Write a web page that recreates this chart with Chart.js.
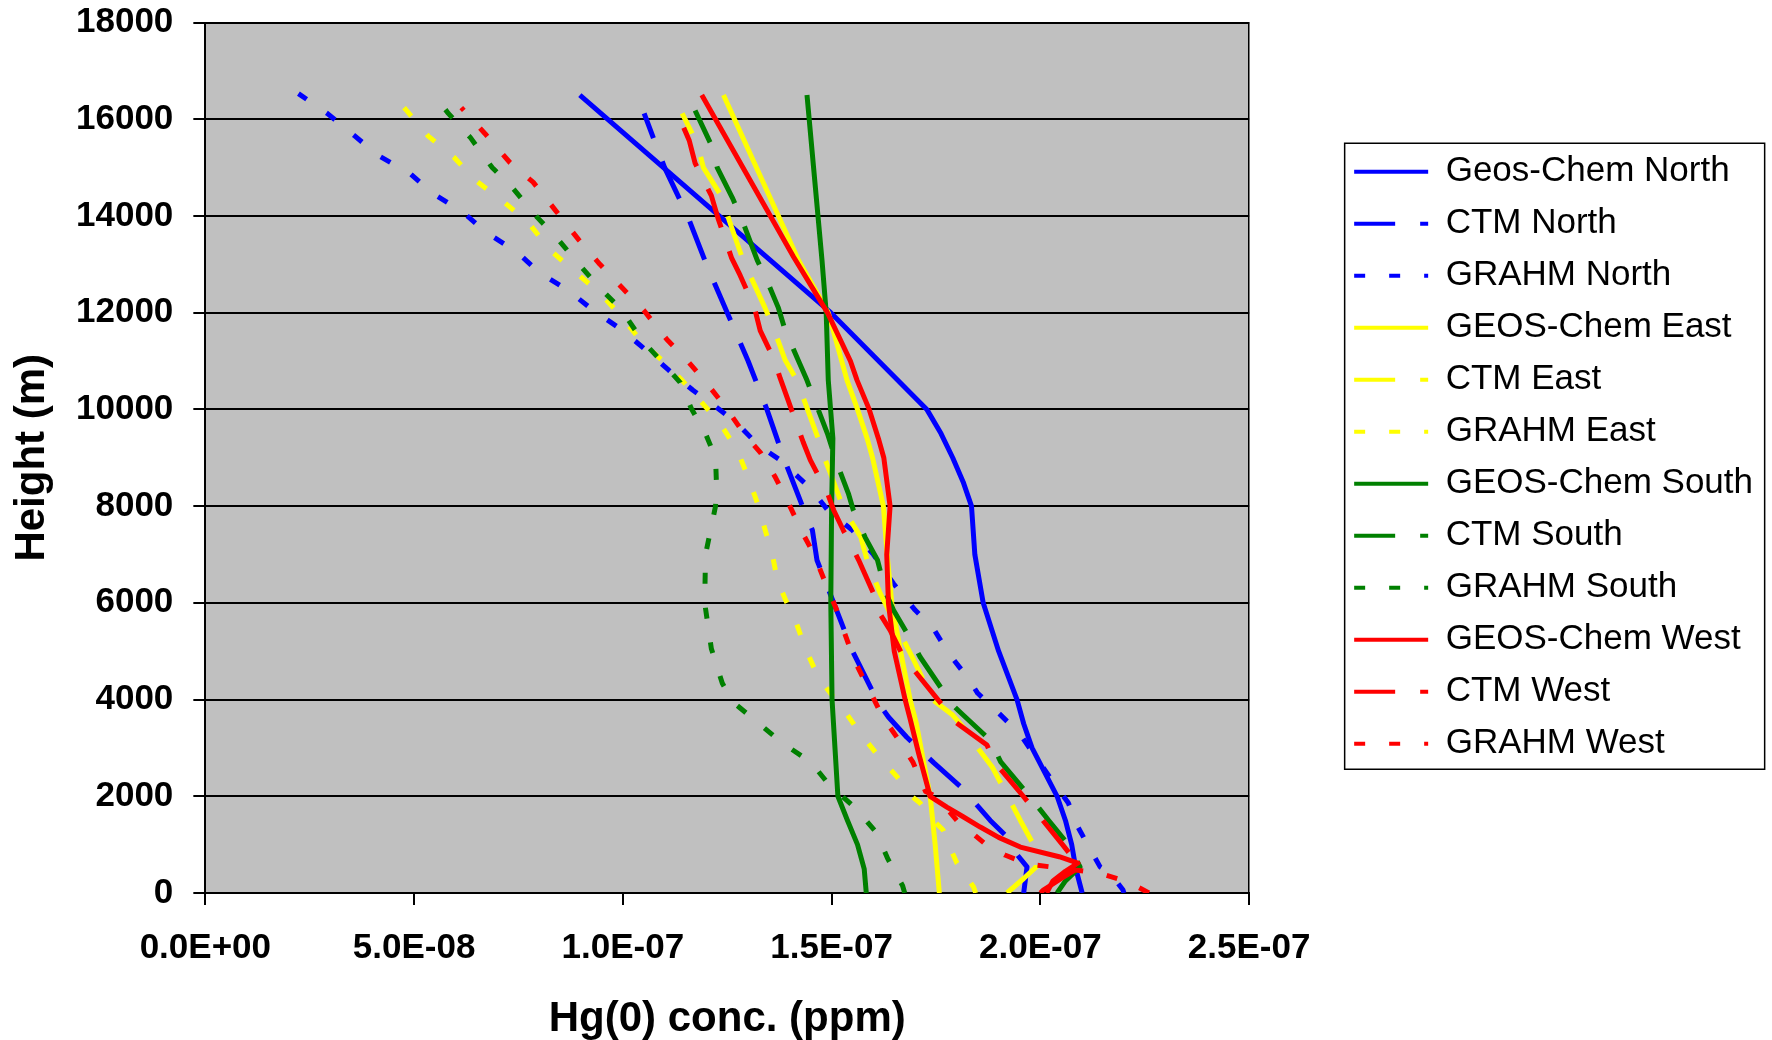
<!DOCTYPE html>
<html>
<head>
<meta charset="utf-8">
<title>Hg(0) vertical profiles</title>
<script src="https://cdn.jsdelivr.net/npm/chart.js@4.4.1/dist/chart.umd.min.js"></script>
<style>
    html, body { margin: 0; padding: 0; background: #fff; }
    #wrap { width: 1772px; height: 1040px; }
</style>
</head>
<body>
<div id="wrap"><canvas id="profileChart"></canvas></div>
<script>
const xTickValues = [0, 5e-8, 1e-7, 1.5e-7, 2e-7, 2.5e-7];
const xTickLabels = ['0.0E+00', '5.0E-08', '1.0E-07', '1.5E-07', '2.0E-07', '2.5E-07'];
const yTickValues = [0, 2000, 4000, 6000, 8000, 10000, 12000, 14000, 16000, 18000];

const seriesLabels = ['Geos-Chem North', 'CTM North', 'GRAHM North',
    'GEOS-Chem East', 'CTM East', 'GRAHM East',
    'GEOS-Chem South', 'CTM South', 'GRAHM South',
    'GEOS-Chem West', 'CTM West', 'GRAHM West'];

// heights (m) and Hg(0) concentrations (ppm), one pair per series
const geosNorthH = [0, 500, 1000, 1500, 2000, 2500, 3000, 3500, 4000, 5000, 6000, 7000, 8000, 8500, 9000, 9500, 10000, 12000, 16500];
const geosNorthC = [2.10e-7, 2.085e-7, 2.075e-7, 2.06e-7, 2.04e-7, 2.01e-7, 1.98e-7, 1.96e-7, 1.944e-7, 1.90e-7, 1.863e-7, 1.843e-7, 1.835e-7, 1.815e-7, 1.79e-7, 1.762e-7, 1.728e-7, 1.498e-7, 0.897e-7];

const ctmNorthH = [0, 540, 890, 1160, 1500, 2190, 2690, 3220, 3640, 3930, 5020, 5910, 6880, 7500, 8000, 9000, 10000, 11000, 12000, 13000, 14000, 15000, 16119];
const ctmNorthC = [1.96e-7, 1.968e-7, 1.935e-7, 1.92e-7, 1.88e-7, 1.81e-7, 1.745e-7, 1.68e-7, 1.636e-7, 1.612e-7, 1.549e-7, 1.509e-7, 1.465e-7, 1.454e-7, 1.43e-7, 1.385e-7, 1.345e-7, 1.30e-7, 1.25e-7, 1.20e-7, 1.155e-7, 1.10e-7, 1.051e-7];

const grahmNorthH = [0, 60, 413, 540, 890, 1364, 1860, 2300, 2800, 3300, 3720, 4130, 4460, 4960, 5480, 5850, 6400, 7000, 7500, 7870, 8370, 8950, 9260, 9710, 10020, 10395, 10810, 11220, 11635, 12050, 12460, 12830, 13250, 13660, 14070, 14470, 14880, 15250, 15660, 16120, 16530];
const grahmNorthC = [2.20e-7, 2.198e-7, 2.167e-7, 2.143e-7, 2.12e-7, 2.09e-7, 2.067e-7, 2.03e-7, 1.99e-7, 1.95e-7, 1.90e-7, 1.85e-7, 1.825e-7, 1.78e-7, 1.743e-7, 1.70e-7, 1.648e-7, 1.60e-7, 1.55e-7, 1.495e-7, 1.449e-7, 1.377e-7, 1.324e-7, 1.274e-7, 1.228e-7, 1.168e-7, 1.11e-7, 1.056e-7, 0.999e-7, 0.929e-7, 0.869e-7, 0.80e-7, 0.747e-7, 0.673e-7, 0.618e-7, 0.544e-7, 0.49e-7, 0.414e-7, 0.357e-7, 0.292e-7, 0.223e-7];

const geosEastH = [0, 1000, 2000, 3000, 3500, 4000, 5000, 6000, 7000, 8000, 9000, 9400, 10000, 10600, 12000, 13078, 16500];
const geosEastC = [1.758e-7, 1.748e-7, 1.736e-7, 1.714e-7, 1.703e-7, 1.688e-7, 1.665e-7, 1.644e-7, 1.633e-7, 1.624e-7, 1.598e-7, 1.585e-7, 1.562e-7, 1.537e-7, 1.492e-7, 1.421e-7, 1.241e-7];

const ctmEastH = [0, 300, 540, 900, 1500, 2000, 2600, 3000, 3430, 3680, 3990, 4880, 6200, 6880, 7360, 7915, 8680, 8950, 9300, 10600, 11015, 11630, 12110, 12730, 13080, 13900, 14380, 15000, 15500, 16119];
const ctmEastC = [1.92e-7, 1.96e-7, 1.99e-7, 1.99e-7, 1.952e-7, 1.922e-7, 1.885e-7, 1.85e-7, 1.815e-7, 1.79e-7, 1.743e-7, 1.693e-7, 1.616e-7, 1.585e-7, 1.57e-7, 1.53e-7, 1.497e-7, 1.485e-7, 1.472e-7, 1.417e-7, 1.389e-7, 1.363e-7, 1.34e-7, 1.307e-7, 1.288e-7, 1.255e-7, 1.238e-7, 1.193e-7, 1.178e-7, 1.142e-7];

const grahmEastH = [0, 124, 620, 930, 1302, 1509, 1860, 2025, 2400, 2790, 3306, 3740, 4000, 4460, 5060, 5640, 6055, 6470, 7000, 7500, 8020, 8600, 9155, 9710, 10085, 10600, 11015, 11390, 11945, 12400, 12875, 13290, 13870, 14280, 14735, 15210, 15650, 16170, 16590];
const grahmEastC = [1.845e-7, 1.84e-7, 1.80e-7, 1.784e-7, 1.767e-7, 1.743e-7, 1.712e-7, 1.688e-7, 1.657e-7, 1.616e-7, 1.568e-7, 1.533e-7, 1.509e-7, 1.468e-7, 1.437e-7, 1.413e-7, 1.39e-7, 1.37e-7, 1.358e-7, 1.341e-7, 1.324e-7, 1.30e-7, 1.274e-7, 1.233e-7, 1.195e-7, 1.142e-7, 1.094e-7, 1.046e-7, 0.994e-7, 0.946e-7, 0.881e-7, 0.826e-7, 0.773e-7, 0.716e-7, 0.647e-7, 0.596e-7, 0.534e-7, 0.483e-7, 0.44e-7];

const geosSouthH = [0, 500, 1000, 1500, 2000, 3000, 4000, 6000, 8000, 9400, 10600, 12000, 13078, 16500];
const geosSouthC = [1.583e-7, 1.578e-7, 1.562e-7, 1.538e-7, 1.515e-7, 1.508e-7, 1.501e-7, 1.498e-7, 1.50e-7, 1.503e-7, 1.492e-7, 1.487e-7, 1.477e-7, 1.441e-7];

const ctmSouthH = [0, 250, 540, 1000, 1500, 2000, 2710, 3160, 3680, 3885, 4880, 5190, 5850, 6200, 6880, 7360, 7915, 8265, 8880, 9500, 10600, 11015, 11630, 12110, 12770, 13081, 13908, 14380, 15000, 15500, 16180];
const ctmSouthC = [2.04e-7, 2.06e-7, 2.095e-7, 2.067e-7, 2.02e-7, 1.974e-7, 1.905e-7, 1.88e-7, 1.815e-7, 1.79e-7, 1.712e-7, 1.693e-7, 1.648e-7, 1.63e-7, 1.61e-7, 1.58e-7, 1.552e-7, 1.54e-7, 1.513e-7, 1.49e-7, 1.441e-7, 1.42e-7, 1.389e-7, 1.372e-7, 1.34e-7, 1.322e-7, 1.286e-7, 1.262e-7, 1.226e-7, 1.21e-7, 1.173e-7];

const grahmSouthH = [0, 150, 700, 1250, 1730, 2280, 2700, 3100, 3520, 3930, 4340, 5050, 6000, 7000, 7500, 8000, 8500, 9000, 9500, 10020, 10560, 11015, 11430, 12090, 12500, 13040, 13535, 13970, 14590, 15000, 15620, 16120, 16590];
const grahmSouthC = [1.675e-7, 1.67e-7, 1.635e-7, 1.607e-7, 1.56e-7, 1.49e-7, 1.451e-7, 1.382e-7, 1.324e-7, 1.266e-7, 1.238e-7, 1.212e-7, 1.196e-7, 1.198e-7, 1.21e-7, 1.222e-7, 1.224e-7, 1.222e-7, 1.198e-7, 1.164e-7, 1.137e-7, 1.09e-7, 1.046e-7, 0.994e-7, 0.946e-7, 0.891e-7, 0.843e-7, 0.795e-7, 0.735e-7, 0.687e-7, 0.635e-7, 0.582e-7, 0.54e-7];

const geosWestH = [0, 250, 450, 620, 750, 950, 1150, 1364, 1577, 1777, 2000, 2900, 3600, 4000, 5000, 6000, 7000, 8000, 9000, 9400, 10000, 10600, 11000, 12000, 13150, 16500];
const geosWestC = [2.015e-7, 2.03e-7, 2.06e-7, 2.09e-7, 2.045e-7, 1.952e-7, 1.90e-7, 1.856e-7, 1.815e-7, 1.776e-7, 1.736e-7, 1.708e-7, 1.688e-7, 1.676e-7, 1.65e-7, 1.636e-7, 1.632e-7, 1.64e-7, 1.625e-7, 1.612e-7, 1.59e-7, 1.561e-7, 1.545e-7, 1.49e-7, 1.409e-7, 1.189e-7];

const ctmWestH = [0, 60, 300, 540, 1000, 1500, 2000, 2710, 3060, 3575, 3885, 4880, 5435, 5850, 6200, 6880, 7500, 7915, 8270, 8950, 9320, 10640, 11015, 11630, 12110, 12770, 13140, 13950, 14420, 15090, 15560, 16220];
const ctmWestC = [2.00e-7, 2.007e-7, 2.05e-7, 2.095e-7, 2.053e-7, 2.006e-7, 1.959e-7, 1.89e-7, 1.872e-7, 1.79e-7, 1.765e-7, 1.672e-7, 1.64e-7, 1.61e-7, 1.60e-7, 1.565e-7, 1.528e-7, 1.505e-7, 1.49e-7, 1.449e-7, 1.432e-7, 1.377e-7, 1.363e-7, 1.329e-7, 1.315e-7, 1.281e-7, 1.26e-7, 1.228e-7, 1.212e-7, 1.173e-7, 1.159e-7, 1.126e-7];

const grahmWestH = [0, 230, 413, 600, 785, 1000, 1500, 2000, 2100, 2700, 3200, 3650, 4200, 4800, 5400, 5900, 6350, 7000, 7450, 8000, 8600, 9100, 9500, 10000, 10550, 11000, 11450, 12050, 12500, 13000, 13500, 14100, 14700, 15100, 15700, 16240];
const grahmWestC = [2.26e-7, 2.21e-7, 2.14e-7, 1.97e-7, 1.915e-7, 1.87e-7, 1.80e-7, 1.75e-7, 1.725e-7, 1.695e-7, 1.658e-7, 1.622e-7, 1.59e-7, 1.555e-7, 1.53e-7, 1.51e-7, 1.488e-7, 1.458e-7, 1.43e-7, 1.40e-7, 1.365e-7, 1.33e-7, 1.29e-7, 1.25e-7, 1.20e-7, 1.155e-7, 1.105e-7, 1.05e-7, 1.00e-7, 0.945e-7, 0.895e-7, 0.84e-7, 0.785e-7, 0.73e-7, 0.67e-7, 0.613e-7];

const FONT = "'Liberation Sans', Arial, sans-serif";
const SOLID = [];
const CTM_DASH = [41, 25];
const GRAHM_DASH = [11, 24];

function points(h, c) {
    let pts = []
    for (let i = 0; i < h.length; i++)
        pts.push({x: c[i], y: h[i]})
    return pts
}

function series(i, h, c, color, dash) {
    return {
        label: seriesLabels[i],
        data: points(h, c),
        borderColor: color,
        backgroundColor: color,
        borderWidth: 5,
        borderDash: dash,
        borderCapStyle: 'butt',
        borderJoinStyle: 'round',
        pointRadius: 0,
        pointHoverRadius: 0,
        showLine: true,
        fill: false,
        tension: 0,
        order: 11 - i
    }
}

const plotBackground = {
    id: 'plotBackground',
    beforeDraw(chart) {
        const {ctx, chartArea: a} = chart
        ctx.save()
        ctx.fillStyle = '#c0c0c0'
        ctx.fillRect(a.left, a.top, a.right - a.left, a.bottom - a.top)
        ctx.restore()
    }
}

const legendFrame = {
    id: 'legendFrame',
    afterDraw(chart) {
        const lg = chart.legend
        const boxes = lg.legendHitBoxes
        if (!boxes || !boxes.length) return
        const first = boxes[0]
        const last = boxes[boxes.length - 1]
        const top = first.top - 11
        const ctx = chart.ctx
        ctx.save()
        ctx.strokeStyle = '#000'
        ctx.lineWidth = 1.5
        ctx.strokeRect(lg.left + 7.5, top, 420, last.top + last.height + 8 - top)
        ctx.restore()
    }
}

function profileChart(id) {
    const datasets = [
        series(0, geosNorthH, geosNorthC, '#0000ff', SOLID),
        series(1, ctmNorthH, ctmNorthC, '#0000ff', CTM_DASH),
        series(2, grahmNorthH, grahmNorthC, '#0000ff', GRAHM_DASH),
        series(3, geosEastH, geosEastC, '#ffff00', SOLID),
        series(4, ctmEastH, ctmEastC, '#ffff00', CTM_DASH),
        series(5, grahmEastH, grahmEastC, '#ffff00', GRAHM_DASH),
        series(6, geosSouthH, geosSouthC, '#008000', SOLID),
        series(7, ctmSouthH, ctmSouthC, '#008000', CTM_DASH),
        series(8, grahmSouthH, grahmSouthC, '#008000', GRAHM_DASH),
        series(9, geosWestH, geosWestC, '#ff0000', SOLID),
        series(10, ctmWestH, ctmWestC, '#ff0000', CTM_DASH),
        series(11, grahmWestH, grahmWestC, '#ff0000', GRAHM_DASH)
    ];
    const tickFont = {family: FONT, size: 35, weight: 'bold'};
    const titleFont = {family: FONT, size: 42, weight: 'bold', lineHeight: 1};
    const config = {
        type: 'scatter',
        data: {datasets: datasets},
        options: {
            responsive: true,
            maintainAspectRatio: false,
            animation: false,
            events: [],
            layout: {padding: {left: 0, right: 9, top: 0, bottom: 0}},
            scales: {
                x: {
                    type: 'linear',
                    min: 0,
                    max: 2.5e-7,
                    afterBuildTicks: s => { s.ticks = xTickValues.map(v => ({value: v})) },
                    ticks: {
                        callback: (v, i) => xTickLabels[i],
                        font: tickFont, color: '#000', padding: 22,
                        maxRotation: 0, autoSkip: false
                    },
                    grid: {drawOnChartArea: false, color: '#000', lineWidth: 2, tickLength: 12},
                    border: {color: '#000', width: 2},
                    title: {display: true, text: 'Hg(0) conc. (ppm)', font: titleFont, color: '#000',
                        padding: {top: 7, bottom: 0}}
                },
                y: {
                    type: 'linear',
                    min: 0,
                    max: 18000,
                    afterBuildTicks: s => { s.ticks = yTickValues.map(v => ({value: v})) },
                    afterFit: s => { s.paddingTop = 22.5; s.paddingBottom = 0 },
                    ticks: {callback: v => String(v), font: tickFont, color: '#000', padding: 20},
                    grid: {color: '#000', lineWidth: 2, tickLength: 12},
                    border: {color: '#000', width: 2},
                    title: {display: true, text: 'Height (m)', font: titleFont, color: '#000',
                        padding: {top: 11, bottom: 3}}
                },
                frame: {
                    type: 'linear',
                    position: 'right',
                    display: true,
                    grid: {display: false, drawTicks: false},
                    ticks: {display: false},
                    border: {display: true, color: '#000', width: 1.5},
                    afterFit: s => { s.width = 88 }
                }
            },
            plugins: {
                tooltip: {enabled: false},
                legend: {
                    position: 'right',
                    align: 'center',
                    fullSize: false,
                    maxWidth: 450,
                    labels: {
                        font: {family: FONT, size: 35},
                        color: '#000',
                        padding: 17,
                        usePointStyle: true,
                        pointStyleWidth: 74,
                        generateLabels: chart => chart.data.datasets.map((ds, i) => ({
                            text: ds.label,
                            strokeStyle: ds.borderColor,
                            fillStyle: ds.borderColor,
                            fontColor: '#000',
                            lineWidth: 4,
                            lineDash: ds.borderDash,
                            lineCap: 'butt',
                            pointStyle: 'line',
                            hidden: false,
                            datasetIndex: i
                        }))
                    }
                }
            }
        },
        plugins: [plotBackground, legendFrame]
    };
    let ctx = document.getElementById(id).getContext('2d')
    new Chart(ctx, config)
}

profileChart('profileChart')
</script>
</body>
</html>
